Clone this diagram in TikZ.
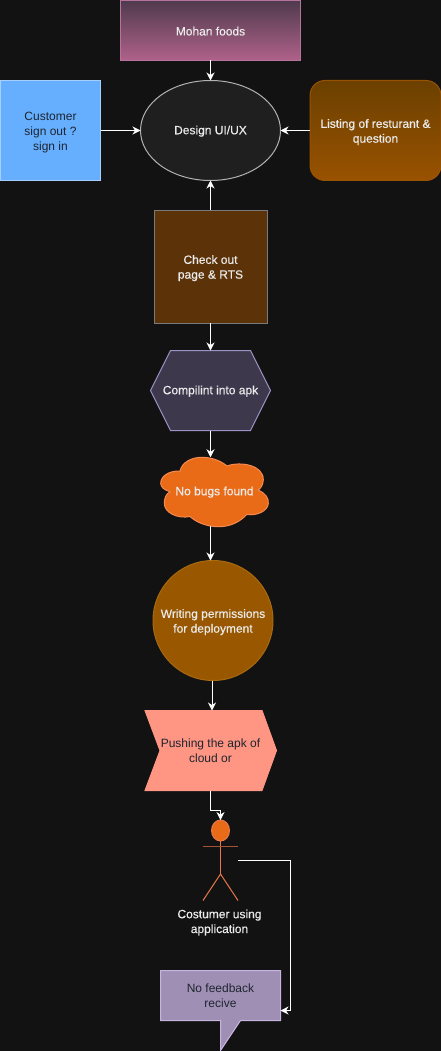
\documentclass[tikz,border=0pt]{standalone}
\usepackage{fontspec}
\setmainfont{Liberation Sans}
\newfontfamily\lightonDark{Liberation Sans}[FakeBold=0.4]
\usepackage{xcolor}
\usetikzlibrary{arrows.meta,positioning,calc,shapes.geometric}
\newcommand{\topstrut}{\rule{0pt}{12pt}}
\definecolor{PageBg}{HTML}{121212}
\definecolor{MohanTop}{HTML}{4F3A4D}
\definecolor{MohanBot}{HTML}{B0628A}
\definecolor{MohanLine}{HTML}{B5739D}
\definecolor{DesignFill}{HTML}{1F1F1F}
\definecolor{CustFill}{HTML}{66AFFF}
\definecolor{CustLine}{HTML}{A6CFFF}
\definecolor{ListTop}{HTML}{6B4000}
\definecolor{ListBot}{HTML}{995200}
\definecolor{CheckFill}{HTML}{5C3308}
\definecolor{HexFill}{HTML}{3D384C}
\definecolor{HexLine}{HTML}{9C92C4}
\definecolor{CloudFill}{HTML}{EA6B17}
\definecolor{CloudLine}{HTML}{F58A50}
\definecolor{PermFill}{HTML}{995700}
\definecolor{PermLine}{HTML}{A96A10}
\definecolor{PushFill}{HTML}{FF9583}
\definecolor{ActorLine}{HTML}{E8784A}
\definecolor{NoteFill}{HTML}{A08FB5}
\definecolor{NoteLine}{HTML}{C7B4E0}
\definecolor{DarkText}{HTML}{1E2530}

\begin{document}
\begin{tikzpicture}[
    x=1pt, y=-1pt,
    font=\fontsize{12}{14.8}\selectfont\lightonDark,
    every node/.style={align=center, outer sep=0pt, inner sep=0pt, text=white!92!black,
      execute at begin node={\rule{0pt}{10pt}}},
    dark/.style={text=DarkText, font=\fontsize{12}{14.8}\selectfont\rmfamily},
    wb/.style={draw, line width=1pt},
    flow/.style={->, white, line width=1pt},
    >={Stealth[length=8pt,width=8pt,inset=2.5pt]}
  ]

  \fill[PageBg] (0,0) rectangle (441,1051);
  \useasboundingbox (0,0) rectangle (441,1051);

  % Yuqori qator
  \node[wb, draw=MohanLine, top color=MohanTop, bottom color=MohanBot,
        minimum width=180pt, minimum height=60pt] (mohan) at (210.5,30.5) {Mohan foods};
  \node[wb, ellipse, draw=white!70!black, fill=DesignFill,
        minimum width=140pt, minimum height=100pt] (design) at (210.5,130.5) {Design UI/UX};
  \node[wb, dark, draw=CustLine, fill=CustFill,
        minimum width=100pt, minimum height=100pt] (customer) at (50.5,130.5) {\topstrut Customer\\sign out ?\\sign in};
  \node[wb, draw=ListBot, top color=ListTop, bottom color=ListBot, rounded corners=15pt,
        minimum width=131pt, minimum height=100pt] (listing) at (375.5,130.5) {\topstrut Listing of resturant \&\\question};
  \node[wb, draw=white!48!black, fill=CheckFill,
        minimum width=113pt, minimum height=113pt] (checkout) at (210.5,266.5) {\topstrut Check out\\page \& RTS};

  % Olti burchak
  \draw[wb, draw=HexLine, fill=HexFill] (150.5,390.5) -- (170.5,350.5) -- (250.5,350.5)
    -- (270.5,390.5) -- (250.5,430.5) -- (170.5,430.5) -- cycle;
  \node[minimum width=120pt, minimum height=80pt] (compile) at (210.5,390.5) {Compilint into apk};

  % Bulut
  \draw[wb, draw=CloudLine, fill=CloudFill] (160.7,483.3)
    .. controls (160.7,475) and (171,470.5) .. (180,471)
    .. controls (182,462) and (192,457.3) .. (201.7,457.3)
    .. controls (212,457.3) and (221,461) .. (227,466)
    .. controls (240,461) and (264,465) .. (263.3,480)
    .. controls (263,485) and (261,488) .. (258.3,490)
    .. controls (265,493) and (269,498) .. (268.3,503.3)
    .. controls (268,511) and (257,516) .. (246.7,514.5)
    .. controls (240,522) and (230,526.7) .. (219,526.7)
    .. controls (206,526.7) and (196,522) .. (190,516.5)
    .. controls (178,519) and (164.3,513) .. (164.3,503.3)
    .. controls (164.3,498) and (166,494) .. (170,491.7)
    .. controls (164,490) and (160.7,487) .. cycle;
  \node[minimum width=100pt, minimum height=68.5pt] (nobugs) at (214.5,491.5) {No bugs found};

  \node[wb, circle, draw=PermLine, fill=PermFill, minimum size=120pt] (permit) at (213,620.5)
    {\topstrut Writing permissions\\for deployment};

  % Chapga o'tuvchi shakl
  \draw[wb, draw=PushFill, fill=PushFill] (145,710.5) -- (262,710.5) -- (276.5,750.5)
    -- (262,790.5) -- (145,790.5) -- (160,750.5) -- cycle;
  \node[dark, minimum width=131pt, minimum height=80pt] (pushing) at (210.5,750.5)
    {Pushing the apk of\\cloud or};

  % Foydalanuvchi
  \node[wb, ellipse, draw=ActorLine, fill=CloudFill, minimum width=18pt, minimum height=21pt] (head) at (220.5,830.5) {};
  \coordinate (hip) at (220.5,874);
  \coordinate (armr) at (238,860.5);
  \draw[ActorLine, line width=1pt] (head.south) -- (hip);
  \draw[ActorLine!70!black, line width=1pt] (203,846.5) -- (238,846.5);
  \draw[ActorLine, line width=1pt] (203,900.5) -- (hip) -- (238,900.5);
  \node (costumer) at (219.5,922.5) {Costumer using\\application};

  % Izoh shakli
  \draw[wb, draw=NoteLine, fill=NoteFill] (160.5,970.5) -- (280.5,970.5) -- (280.5,1020.5) -- (240.5,1020.5)
    -- (220.5,1050.5) -- (220.5,1020.5) -- (160.5,1020.5) -- cycle;
  \node[dark, minimum width=120pt, minimum height=50pt] (feedback) at (220.5,995.5) {No feedback\\recive};

  % Ulanishlar
  \draw[flow] (mohan) -- (design);
  \draw[flow] (customer) -- (design);
  \draw[flow] (listing) -- (design);
  \draw[flow] (checkout) -- (design);
  \draw[flow] (checkout) -- (compile);
  \draw[flow] (compile) -- (compile |- nobugs.north);
  \draw[flow] (compile |- nobugs.south) -- (compile |- permit.north);
  \draw[flow] ($(permit.south)+(-1,0)$) -- ($(pushing.north)+(1.5,0)$);
  \draw[flow] (pushing.south) -- ++(0,19.5) -| (head.north);
  \draw[flow] (armr) -| ($(feedback.east)+(10,15)$) -- ($(feedback.east)+(0,15)$);
\end{tikzpicture}
\end{document}
